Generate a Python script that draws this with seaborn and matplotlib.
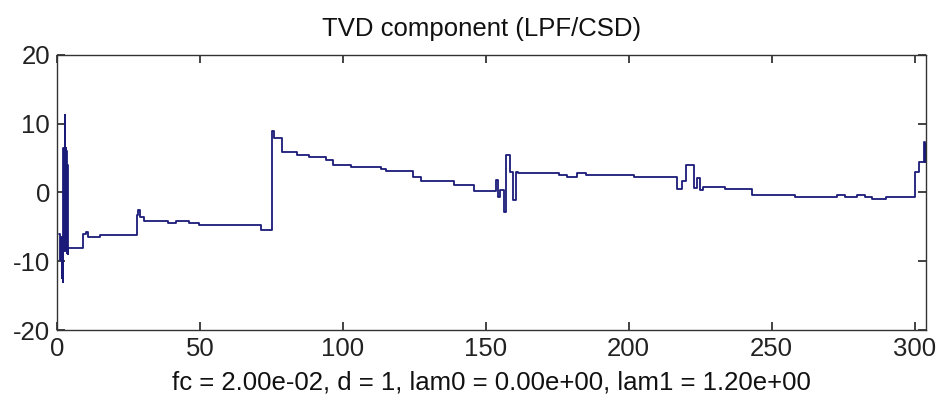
import matplotlib
matplotlib.use("Agg")
import matplotlib.pyplot as plt
import seaborn as sns
import pandas as pd

# Step signal: start position of each level and the level value
step_x = [0.8, 1.0, 1.3, 1.6, 1.9, 2.1, 2.25, 2.35, 2.45, 2.55, 2.65, 2.75, 2.85, 2.95, 3.05,
          3.15, 3.25, 3.35, 3.45, 3.55, 3.65, 3.8, 4.0,
          9.2, 10.0, 11.0, 15.0, 27.9, 28.4, 29.0, 30.3, 39.0, 41.6, 46.3, 49.8,
          71.5, 75.2, 76.0, 78.7, 84.0, 88.0, 94.0, 96.5, 103.0, 113.5, 115.0,
          124.5, 127.4, 139.0, 146.0, 153.7, 154.2, 154.8, 156.5, 157.0, 158.6,
          159.5, 160.5, 161.2, 175.5, 178.4, 182.0, 184.9, 201.8, 217.0, 218.7,
          219.9, 222.8, 224.0, 225.0, 226.0, 233.7, 243.0, 258.3, 272.9, 275.8,
          279.9, 282.5, 285.2, 289.9, 300.3, 301.5, 303.3, 303.5, 303.7, 303.9, 304.0]
step_y = [-6.0, -9.8, -6.5, -12.5, -7.0, -13.0, 6.5, -8.5, 6.0, -8.0, 6.7, -7.5, 11.3, -8.5, 6.5,
          -7.0, 6.0, -8.8, 5.5, -7.5, 4.0, -9.0, -8.1,
          -6.0, -5.7, -6.5, -6.2, -3.3, -2.6, -3.5, -4.15, -4.5, -4.15, -4.4, -4.7,
          -5.5, 9.0, 7.9, 5.9, 5.45, 5.2, 4.7, 4.0, 3.75, 3.4, 3.1,
          2.3, 1.7, 1.1, 0.27, 1.8, -0.6, 0.3, -2.8, 5.45, 3.0,
          -1.1, 3.0, 2.9, 2.55, 2.2, 2.9, 2.55, 2.2, 0.45, 1.6,
          4.0, 0.6, 2.05, 0.36, 0.85, 0.5, -0.4, -0.7, -0.4, -0.7,
          -0.4, -0.7, -1.0, -0.7, 3.0, 4.5, 7.4, 4.5, 7.0, 5.5, 5.5]

x_ticks = [0, 50, 100, 150, 200, 250, 300]
y_ticks = [-20, -10, 0, 10, 20]
title_text = "TVD component (LPF/CSD)"
xlabel_text = "fc = 2.00e-02, d = 1, lam0 = 0.00e+00, lam1 = 1.20e+00"

sns.set_theme(style="white")
plt.rcParams['font.family'] = ['Liberation Sans', 'DejaVu Sans']
plt.rcParams['axes.unicode_minus'] = False
plt.rcParams.update({
    'xtick.bottom': True, 'xtick.top': True, 'ytick.left': True, 'ytick.right': True,
    'xtick.direction': 'in', 'ytick.direction': 'in',
    'xtick.major.size': 6, 'ytick.major.size': 6,
    'xtick.major.width': 1.2, 'ytick.major.width': 1.2,
    'xtick.color': '#222222', 'ytick.color': '#222222',
})

df = pd.DataFrame({"n": step_x, "v": step_y})

fig = plt.figure(figsize=(9.38, 4.04), dpi=100)
ax = fig.add_axes([57 / 938, 1 - 330 / 404, (926 - 57) / 938, (330 - 55) / 404])

sns.lineplot(data=df, x="n", y="v", ax=ax, estimator=None, sort=False,
             drawstyle="steps-post", color="#1a1a78", linewidth=1.3)

ax.set_xlim(0, 304)
ax.set_ylim(-20, 20)
ax.set_xticks(x_ticks)
ax.set_yticks(y_ticks)
ax.tick_params(which="major", direction="in", length=6, width=1.2, bottom=True, left=True,
               top=True, right=True, labelsize=18.5, color="#222222",
               labelcolor="#222222", pad=5)
for s in ax.spines.values():
    s.set_visible(True)
    s.set_color("#333333")
    s.set_linewidth(1.0)
ax.set_xlabel(xlabel_text, fontsize=18.5, color="#111111", labelpad=7)
ax.set_ylabel("")
ax.set_title(title_text, fontsize=18.5, color="#111111", pad=14, x=0.4885)
ax.grid(False)

fig.savefig("out.png", dpi=100, facecolor="white")
